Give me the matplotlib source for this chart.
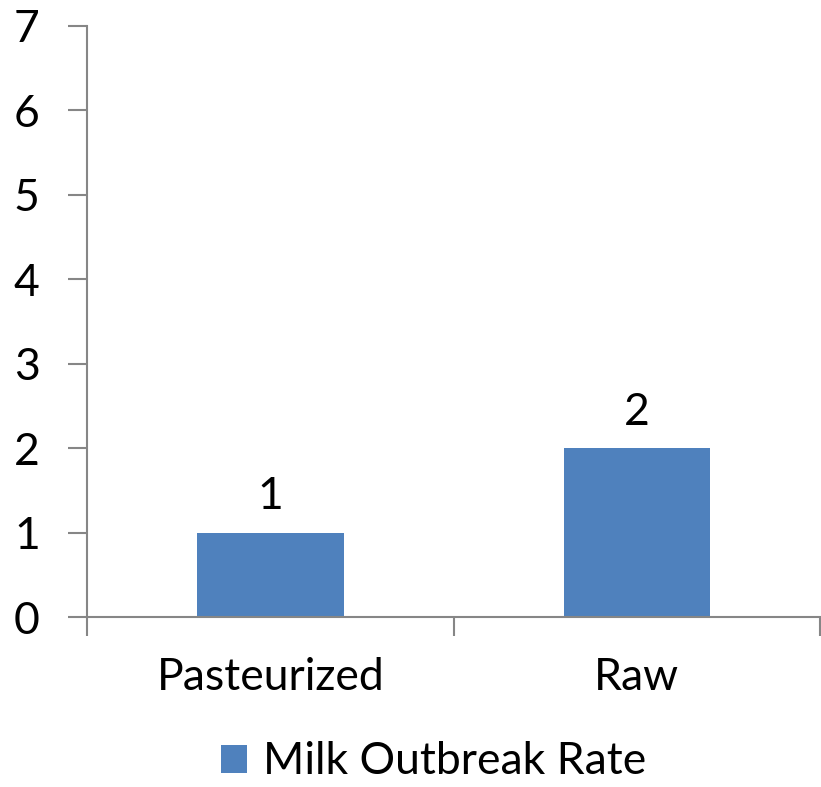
import matplotlib
matplotlib.use("Agg")
import matplotlib.pyplot as plt
from matplotlib.patches import Patch

# data
categories = ["Pasteurized", "Raw"]
rates = [1, 2]
series_name = "Milk Outbreak Rate"

bar_color = "#4F81BD"
axis_color = "#868686"

plt.rcParams['font.family'] = ['Lato', 'DejaVu Sans']

fig = plt.figure(figsize=(8.21, 7.87), dpi=100)
ax = fig.add_axes([87 / 821, 1 - 617 / 787, 1 - 87 / 821 - 0.001, (617 - 26) / 787])

x = list(range(len(categories)))
ax.bar(x, rates, width=0.4, color=bar_color, zorder=2)
for xi, v in zip(x, rates):
    ax.text(xi, v + 0.18, str(v), ha="center", va="bottom", fontsize=32)

ax.set_xlim(-0.5, len(categories) - 0.5)
ax.set_ylim(0, 7)
ax.set_yticks(range(0, 8))
ax.tick_params(axis="y", labelsize=32, length=14, color=axis_color, width=1.5, pad=20)

# category boundary ticks on x axis
ax.set_xticks([-0.5, 0.5, 1.5])
ax.set_xticklabels([])
ax.set_xticks(x, minor=True)
ax.set_xticklabels(categories, minor=True, fontsize=32)
ax.tick_params(axis="x", which="major", length=14, color=axis_color, width=1.5)
ax.tick_params(axis="x", which="minor", length=0, pad=29)

for side in ["top", "right"]:
    ax.spines[side].set_visible(False)
for side in ["left", "bottom"]:
    ax.spines[side].set_color(axis_color)
    ax.spines[side].set_linewidth(1.5)

handle = Patch(facecolor=bar_color, label=series_name)
fig.legend(handles=[handle], loc="center", bbox_to_anchor=(0.528, 1 - 762 / 787),
           frameon=False, fontsize=32, handlelength=0.6, handleheight=0.6,
           handletextpad=0.35)

fig.savefig("out.png", dpi=100)
